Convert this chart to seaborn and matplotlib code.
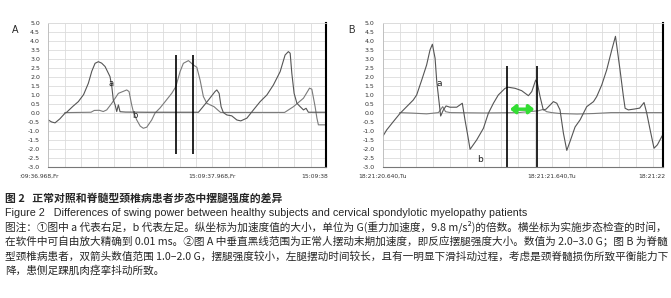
import matplotlib
matplotlib.use('Agg')
import matplotlib.pyplot as plt
import numpy as np
import pandas as pd
import seaborn as sns

# 图A 正常人: 时间(s, 相对左端) 与 加速度(G)
a_t_A = [0.000, 0.020, 0.041, 0.070, 0.100, 0.112, 0.150, 0.183, 0.215, 0.244, 0.265, 0.285,
         0.305, 0.325, 0.346, 0.376, 0.387, 0.396, 0.407, 0.417, 0.427, 0.437, 0.470, 0.600,
         0.800, 0.915, 0.935, 0.976, 1.016, 1.027, 1.041, 1.053, 1.067, 1.088, 1.118, 1.149,
         1.173, 1.210, 1.250, 1.291, 1.332, 1.372, 1.413, 1.443, 1.463, 1.474, 1.484, 1.498,
         1.515, 1.535, 1.555, 1.571, 1.585, 1.693]
a_v_A = [-0.41, -0.52, -0.57, -0.35, -0.05, 0.02, 0.35, 0.61, 1.00, 1.63, 2.30, 2.74,
         2.83, 2.75, 2.56, 2.00, 1.44, 0.71, 0.43, 0.06, 0.43, 0.05, 0.03, 0.02,
         0.02, 0.02, 0.24, 0.70, 1.17, 1.26, 1.07, 0.33, 0.00, -0.13, -0.18, -0.41,
         -0.46, -0.31, 0.15, 0.61, 0.98, 1.54, 2.28, 3.20, 3.39, 3.30, 2.19, 1.07,
         0.52, 0.33, 0.15, 0.24, 0.02, 0.02]
b_t_A = [0.100, 0.260, 0.280, 0.310, 0.335, 0.356, 0.387, 0.427, 0.478, 0.492, 0.508, 0.518,
         0.539, 0.560, 0.579, 0.600, 0.630, 0.650, 0.681, 0.712, 0.752, 0.777, 0.803, 0.823,
         0.854, 0.884, 0.905, 0.925, 0.945, 0.966, 0.986, 1.010, 1.037, 1.050, 1.440, 1.494,
         1.555, 1.592, 1.606, 1.626, 1.637, 1.646, 1.693]
b_v_A = [0.00, 0.02, 0.12, 0.13, 0.06, 0.15, 0.52, 1.07, 1.26, 1.17, 0.43, 0.06,
         -0.41, -0.75, -0.87, -0.81, -0.41, -0.03, 0.26, 0.61, 1.07, 1.44, 2.28, 2.74,
         2.89, 2.65, 2.52, 1.81, 0.89, 0.52, 0.43, 0.33, 0.11, 0.01, 0.01, 0.33,
         0.80, 1.36, 1.30, 0.33, -0.31, -0.68, -0.68]

# 图B 脊髓型颈椎病患者
a_t_B = [0.000, 0.024, 0.063, 0.103, 0.142, 0.181, 0.201, 0.231, 0.260, 0.280, 0.294, 0.310,
         0.320, 0.330, 0.343, 0.359, 0.375, 0.398, 0.438, 0.471, 0.487, 0.501, 0.517, 0.556,
         0.596, 0.625, 0.655, 0.684, 0.724, 0.743, 0.783, 0.822, 0.862, 0.882, 0.905, 0.915,
         0.931, 0.950, 0.966, 1.010, 1.030, 1.049, 1.069, 1.089, 1.108, 1.138, 1.168, 1.207,
         1.247, 1.266, 1.296, 1.325, 1.355, 1.377, 1.404, 1.424, 1.434, 1.453, 1.490, 1.520,
         1.546, 1.562, 1.582, 1.605, 1.625, 1.651, 1.659]
a_v_B = [-1.33, -0.96, -0.50, -0.04, 0.33, 0.70, 0.98, 1.81, 2.65, 3.48, 3.80, 3.02,
         1.72, 0.89, -0.19, 0.15, 0.37, 0.30, 0.30, 0.52, -0.41, -1.15, -2.04, -1.52,
         -0.87, -0.04, 0.52, 0.98, 1.35, 1.41, 1.35, 1.22, 0.94, 1.17, 1.81, 1.63,
         0.89, 0.15, 0.19, 0.61, 0.52, 0.15, -1.14, -2.10, -1.61, -0.80, -0.40, 0.33,
         0.61, 0.89, 1.54, 2.37, 3.48, 4.24, 2.37, 0.89, 0.24, 0.15, 0.20, 0.25,
         0.56, -0.03, -0.96, -1.98, -1.79, -1.33, -1.20]
b_t_B = [0.100, 0.180, 0.260, 0.310, 0.330, 0.355, 0.372, 0.400, 0.600, 0.800, 0.920, 0.950,
         0.970, 1.000, 1.050, 1.150, 1.250, 1.350, 1.659]
b_v_B = [0.00, -0.03, -0.07, -0.02, 0.00, 0.33, 0.05, 0.00, -0.02, 0.00, 0.10, 0.18,
         0.05, 0.00, -0.05, -0.08, -0.05, 0.00, 0.00]

# 垂直黑线与双箭头
vlines_A = [0.777, 0.884]
vlines_B = [0.737, 0.915]
arrow_B = [0.753, 0.897]

yticks = np.arange(-3.0, 5.01, 0.5)
xlab_A = [':09:36.968,Fr', '15:09:37.968,Fr', '15:09:38']
xlab_B = ['18:21:20.640,Tu', '18:21:21.640,Tu', '18:21:22']

title_cn = '图 2   正常对照和脊髓型颈椎病患者步态中摆腿强度的差异'
title_en = 'Figure 2   Differences of swing power between healthy subjects and cervical spondylotic myelopathy patients'
notes = ['图注：①图中 a 代表右足，b 代表左足。纵坐标为加速度值的大小，单位为 G(重力加速度，9.8 m/s²)的倍数。横坐标为实施步态检查的时间，',
         '在软件中可自由放大精确到 0.01 ms。②图 A 中垂直黑线范围为正常人摆动末期加速度，即反应摆腿强度大小。数值为 2.0–3.0 G；图 B 为脊髓',
         '型颈椎病患者，双箭头数值范围 1.0–2.0 G，摆腿强度较小，左腿摆动时间较长，且有一明显下滑抖动过程，考虑是颈脊髓损伤所致平衡能力下',
         '降，患侧足踝肌肉痉挛抖动所致。']

sns.set_style('white')
plt.rcParams['font.family'] = ['DejaVu Sans']
cjk = ['Noto Sans CJK SC', 'DejaVu Sans']

fig = plt.figure(figsize=(6.71, 2.98), dpi=100)
axA = fig.add_axes([0.072, 0.441, 0.414, 0.483])
axB = fig.add_axes([0.5703, 0.441, 0.418, 0.483])


def style_axis(ax, xmax):
    ax.set_xlim(0, xmax)
    ax.set_ylim(-3, 5)
    ax.set_yticks(yticks)
    ax.set_yticklabels(['%.1f' % v for v in yticks], fontsize=4.5, color='#333333')
    ax.set_xticks(np.arange(0, xmax, 0.5))
    ax.set_xticks(np.arange(0, xmax, 0.1), minor=True)
    ax.grid(True, which='major', axis='y', color='#dcdcdc', lw=0.6)
    ax.grid(True, which='both', axis='x', color='#dcdcdc', lw=0.6)
    ax.tick_params(axis='y', length=0, pad=6)
    ax.tick_params(axis='x', which='major', length=3, width=1.5, color='black',
                   labelbottom=False, direction='out')
    ax.tick_params(axis='x', which='minor', length=1.5, width=0.5, color='#777777')
    ax.spines['left'].set_color('#bbbbbb')
    ax.spines['left'].set_linewidth(0.6)
    ax.spines['top'].set_color('#dcdcdc')
    ax.spines['top'].set_linewidth(0.6)
    ax.spines['right'].set_color('black')
    ax.spines['right'].set_linewidth(1.5)
    ax.spines['bottom'].set_color('#777777')
    ax.spines['bottom'].set_linewidth(0.8)
    ax.set_xlabel('')
    ax.set_ylabel('')


for ax, t1, v1, t2, v2, xmax in [(axA, a_t_A, a_v_A, b_t_A, b_v_A, 1.693),
                                 (axB, a_t_B, a_v_B, b_t_B, b_v_B, 1.659)]:
    sns.lineplot(x=t2, y=v2, ax=ax, color='#7a7a7a', lw=0.8, sort=False, estimator=None)
    sns.lineplot(x=t1, y=v1, ax=ax, color='#555555', lw=0.8, sort=False, estimator=None)
    style_axis(ax, xmax)

axA.vlines(vlines_A, -2.31, 3.21, color='black', lw=1.2)
axB.vlines(vlines_B, -3.0, 2.61, color='black', lw=1.2)
axB.annotate('', xy=(arrow_B[1], 0.19), xytext=(arrow_B[0], 0.19),
             arrowprops=dict(arrowstyle='<|-|>,head_length=0.3,head_width=0.25',
                             color='#33dd33', lw=2.5, shrinkA=0, shrinkB=0))

axA.text(0.382, 1.63, 'a', fontsize=6, ha='center', va='center', color='#222222')
axA.text(0.529, -0.18, 'b', fontsize=6, ha='center', va='center', color='#222222')
axB.text(0.335, 1.59, 'a', fontsize=6.5, ha='center', va='center', color='#222222')
axB.text(0.576, -2.63, 'b', fontsize=6.5, ha='center', va='center', color='#222222')

# 时间轴标签
tr = axA.get_xaxis_transform()
axA.text(-0.055, -0.07, xlab_A[0], transform=tr, fontsize=4.3, ha='center', va='center', color='#333333')
axA.text(1.0, -0.07, xlab_A[1], transform=tr, fontsize=4.3, ha='center', va='center', color='#333333')
axA.text(1.707, -0.07, xlab_A[2], transform=tr, fontsize=4.3, ha='right', va='center', color='#333333')
tr = axB.get_xaxis_transform()
axB.text(0.0, -0.07, xlab_B[0], transform=tr, fontsize=4.3, ha='center', va='center', color='#333333')
axB.text(1.0, -0.07, xlab_B[1], transform=tr, fontsize=4.3, ha='center', va='center', color='#333333')
axB.text(1.511, -0.07, xlab_B[2], transform=tr, fontsize=4.3, ha='left', va='center', color='#333333')

fig.text(12 / 671, 1 - 30 / 298, 'A', fontsize=7, ha='left', va='center', family='Liberation Sans')
fig.text(348 / 671, 1 - 30 / 298, 'B', fontsize=7, ha='left', va='center', family='Liberation Sans')

# 图题和图注
fig.text(5 / 671, 1 - 198 / 298, title_cn, fontsize=7.8, weight='bold', ha='left', va='center', family=cjk)
en_txt = fig.text(5 / 671, 1 - 213 / 298, title_en, fontsize=7.6, ha='left', va='center',
                  family='Liberation Sans')
note_y = [227, 241.5, 256, 270]
note_txt = [fig.text(5 / 671, 1 - y / 298, s, fontsize=7.6, ha='left', va='center', family=cjk)
            for s, y in zip(notes, note_y)]

fig.canvas.draw()
r = fig.canvas.get_renderer()
sizes = []
for t in note_txt[:3]:
    w = t.get_window_extent(r).width
    t.set_fontsize(t.get_fontsize() * 662 / w)
    sizes.append(t.get_fontsize())
note_txt[3].set_fontsize(np.mean(sizes))
w = en_txt.get_window_extent(r).width
en_txt.set_fontsize(en_txt.get_fontsize() * 514 / w)

fig.savefig('out.png', dpi=100)
